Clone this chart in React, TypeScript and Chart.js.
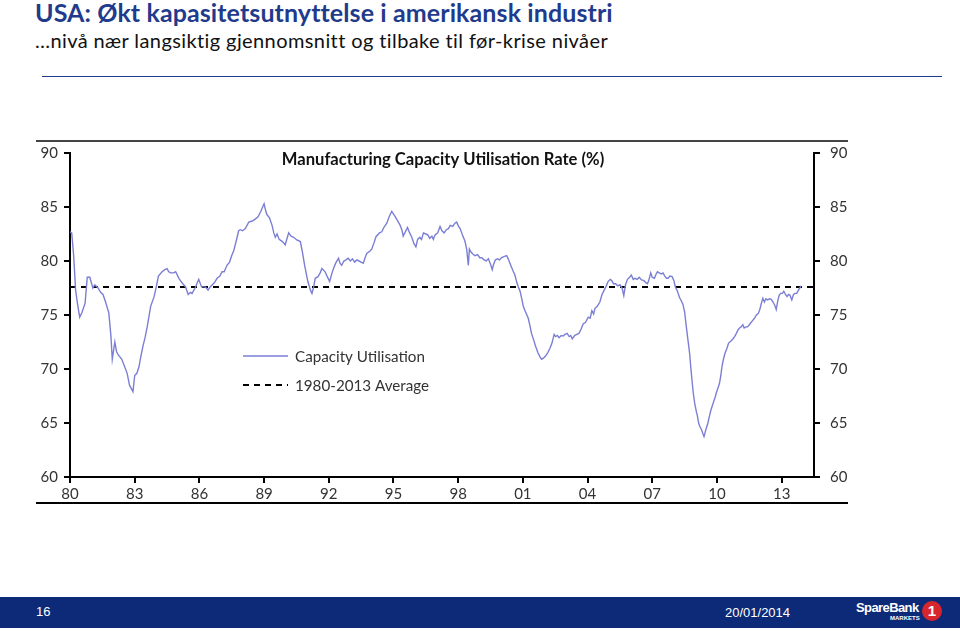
import React, { useEffect, useRef } from "react";
import { Chart, registerables } from "chart.js";

Chart.register(...registerables);

// ---- DATA ----
const pageTitle = "USA: Økt kapasitetsutnyttelse i amerikansk industri";
const pageSubtitle = "…nivå nær langsiktig gjennomsnitt og tilbake til før-krise nivåer";
const chartTitle = "Manufacturing Capacity Utilisation Rate (%)";
const seriesLabel = "Capacity Utilisation";
const averageLabel = "1980-2013 Average";
const footerPage = "16";
const footerDate = "20/01/2014";

const xTickYears = [1980, 1983, 1986, 1989, 1992, 1995, 1998, 2001, 2004, 2007, 2010, 2013];
const xTickLabels = ["80", "83", "86", "89", "92", "95", "98", "01", "04", "07", "10", "13"];
const yTicks = [60, 65, 70, 75, 80, 85, 90];

const averageValue = 77.6;
const averageSpan = [1980, 2014.5];

const dates = [
  1980.0, 1980.08, 1980.17, 1980.26, 1980.35, 1980.45, 1980.55, 1980.7, 1980.8, 1980.92,
  1981.06, 1981.15, 1981.3, 1981.42, 1981.53, 1981.65, 1981.8, 1981.9, 1981.96, 1982.08,
  1982.16, 1982.24, 1982.4, 1982.5, 1982.65, 1982.76, 1982.92, 1983.0, 1983.1, 1983.2,
  1983.27, 1983.38, 1983.48, 1983.58, 1983.74, 1983.9, 1984.0, 1984.1, 1984.27, 1984.4,
  1984.5, 1984.58, 1984.66, 1984.8, 1984.9, 1985.05, 1985.15, 1985.23, 1985.36, 1985.48,
  1985.58, 1985.66, 1985.8, 1985.97, 1986.1, 1986.28, 1986.4, 1986.5, 1986.6, 1986.7,
  1986.82, 1986.95, 1987.05, 1987.15, 1987.28, 1987.4, 1987.5, 1987.6, 1987.75, 1987.82,
  1987.9, 1988.0, 1988.13, 1988.29, 1988.45, 1988.6, 1988.72, 1988.85, 1989.0, 1989.08,
  1989.13, 1989.25, 1989.37, 1989.45, 1989.52, 1989.6, 1989.7, 1989.85, 1989.98, 1990.08,
  1990.14, 1990.25, 1990.37, 1990.52, 1990.68, 1990.78, 1990.88, 1991.03, 1991.15, 1991.22,
  1991.3, 1991.37, 1991.5, 1991.6, 1991.68, 1991.83, 1991.92, 1992.04, 1992.15, 1992.22,
  1992.32, 1992.45, 1992.52, 1992.6, 1992.7, 1992.8, 1992.9, 1993.0, 1993.1, 1993.2,
  1993.3, 1993.4, 1993.5, 1993.6, 1993.7, 1993.76, 1993.9, 1993.99, 1994.1, 1994.19,
  1994.35, 1994.46, 1994.55, 1994.69, 1994.8, 1994.92, 1995.08, 1995.2, 1995.31, 1995.4,
  1995.45, 1995.55, 1995.65, 1995.75, 1995.85, 1995.95, 1996.04, 1996.12, 1996.22, 1996.3,
  1996.39, 1996.5, 1996.6, 1996.68, 1996.78, 1996.85, 1996.92, 1997.05, 1997.16, 1997.25,
  1997.35, 1997.45, 1997.55, 1997.63, 1997.75, 1997.85, 1997.93, 1998.02, 1998.09, 1998.2,
  1998.32, 1998.4, 1998.47, 1998.52, 1998.6, 1998.7, 1998.78, 1998.9, 1999.0, 1999.1,
  1999.2, 1999.3, 1999.4, 1999.5, 1999.58, 1999.63, 1999.72, 1999.82, 1999.92, 2000.0,
  2000.12, 2000.25, 2000.32, 2000.4, 2000.48, 2000.56, 2000.63, 2000.72, 2000.79, 2000.87,
  2000.95, 2001.02, 2001.1, 2001.25, 2001.33, 2001.4, 2001.5, 2001.59, 2001.7, 2001.8,
  2001.87, 2001.95, 2002.05, 2002.15, 2002.25, 2002.35, 2002.45, 2002.52, 2002.6, 2002.68,
  2002.78, 2002.87, 2002.95, 2003.05, 2003.15, 2003.22, 2003.29, 2003.4, 2003.5, 2003.6,
  2003.7, 2003.8, 2003.9, 2004.03, 2004.12, 2004.2, 2004.28, 2004.34, 2004.45, 2004.57,
  2004.67, 2004.77, 2004.87, 2004.95, 2005.05, 2005.12, 2005.2, 2005.3, 2005.4, 2005.5,
  2005.6, 2005.68, 2005.76, 2005.85, 2005.95, 2006.03, 2006.12, 2006.2, 2006.3, 2006.4,
  2006.5, 2006.6, 2006.7, 2006.78, 2006.85, 2006.93, 2007.0, 2007.1, 2007.18, 2007.24,
  2007.32, 2007.42, 2007.5, 2007.58, 2007.66, 2007.73, 2007.82, 2007.92, 2008.0, 2008.07,
  2008.15, 2008.27, 2008.35, 2008.42, 2008.5, 2008.58, 2008.66, 2008.73, 2008.78, 2008.84,
  2008.9, 2008.97, 2009.05, 2009.09, 2009.15, 2009.2, 2009.28, 2009.35, 2009.4, 2009.46,
  2009.52, 2009.58, 2009.66, 2009.72, 2009.77, 2009.85, 2009.92, 2009.97, 2010.04, 2010.12,
  2010.18, 2010.23, 2010.3, 2010.38, 2010.46, 2010.54, 2010.65, 2010.75, 2010.82, 2010.9,
  2010.97, 2011.05, 2011.12, 2011.2, 2011.26, 2011.35, 2011.42, 2011.5, 2011.58, 2011.66,
  2011.74, 2011.83, 2011.92, 2012.0, 2012.06, 2012.13, 2012.2, 2012.27, 2012.35, 2012.44,
  2012.52, 2012.6, 2012.68, 2012.75, 2012.82, 2012.88, 2012.95, 2013.03, 2013.1, 2013.18,
  2013.25, 2013.32, 2013.38, 2013.47, 2013.55, 2013.62, 2013.7, 2013.78, 2013.9,
];

const utilisation = [
  82.7, 82.6, 80.5, 77.3, 76.0, 74.8, 75.2, 76.1, 78.5, 78.5,
  77.5, 77.8, 77.5, 77.1, 76.9, 76.2, 75.2, 73.0, 70.9, 72.5,
  71.6, 71.3, 70.9, 70.4, 69.6, 68.5, 67.9, 69.4, 69.6, 70.2,
  71.0, 72.1, 72.9, 73.9, 75.8, 76.7, 77.6, 78.6, 79.0, 79.2,
  79.3, 79.0, 78.9, 78.9, 79.0, 78.4, 78.1, 77.9, 77.6, 76.9,
  77.1, 77.0, 77.5, 78.3, 77.6, 77.6, 77.3, 77.6, 77.8, 78.0,
  78.4, 78.6, 79.0, 79.0, 79.6, 79.9, 80.5, 81.0, 82.2, 82.8,
  82.9, 82.8, 83.0, 83.6, 83.7, 83.9, 84.1, 84.6, 85.3, 84.6,
  84.3, 84.0, 83.3, 82.6, 82.2, 82.5, 82.0, 81.8, 81.5, 82.2,
  82.6, 82.3, 82.2, 81.95, 81.8, 80.8, 79.6, 78.1, 77.3, 77.0,
  77.6, 78.4, 78.55, 78.9, 79.3, 79.0, 78.6, 78.1, 78.9, 79.3,
  79.8, 80.25, 79.8, 79.6, 80.0, 80.1, 80.25, 80.0, 80.2, 79.9,
  80.1, 80.0, 79.9, 79.8, 80.4, 80.7, 80.9, 81.1, 81.7, 82.25,
  82.6, 82.7, 83.1, 83.5, 84.1, 84.6, 84.1, 83.7, 83.3, 82.8,
  82.3, 82.7, 83.1, 82.6, 82.2, 81.6, 81.3, 82.0, 82.2, 82.0,
  82.6, 82.5, 82.4, 82.1, 82.3, 82.0, 82.4, 82.6, 83.2, 82.8,
  82.6, 82.9, 83.0, 83.3, 83.2, 83.5, 83.6, 83.2, 83.0, 82.4,
  81.8, 81.0, 79.6, 81.1, 80.8, 80.6, 80.5, 80.6, 80.3, 80.3,
  80.1, 80.0, 80.2, 79.7, 79.2, 79.6, 80.1, 80.2, 80.1, 80.3,
  80.4, 80.5, 80.2, 79.8, 79.4, 79.0, 78.7, 78.0, 77.6, 77.2,
  76.5, 75.8, 75.4, 74.7, 74.0, 73.3, 72.7, 72.1, 71.5, 71.1,
  70.9, 71.0, 71.2, 71.5, 71.9, 72.4, 73.2, 73.0, 73.1, 72.9,
  73.1, 73.05, 73.2, 73.3, 73.0, 73.1, 72.8, 73.1, 73.2, 73.3,
  73.7, 74.2, 74.3, 74.8, 74.7, 75.4, 75.1, 75.6, 75.8, 76.2,
  76.9, 77.3, 77.7, 78.1, 78.3, 78.2, 77.9, 77.9, 77.7, 77.8,
  77.5, 76.8, 77.8, 78.3, 78.5, 78.7, 78.3, 78.4, 78.3, 78.5,
  78.25, 78.2, 78.0, 77.9, 78.3, 78.9, 78.5, 78.4, 78.8, 79.0,
  78.9, 78.8, 78.9, 78.6, 78.4, 78.4, 78.6, 78.55, 78.2, 77.6,
  77.3, 76.6, 76.3, 76.0, 75.3, 73.9, 72.6, 71.5, 70.3, 69.0,
  67.8, 66.8, 66.0, 65.7, 65.0, 64.7, 64.4, 64.0, 63.75, 64.2,
  64.6, 65.0, 65.7, 66.2, 66.5, 67.0, 67.4, 67.8, 68.2, 68.7,
  69.4, 70.2, 70.9, 71.5, 71.9, 72.4, 72.6, 72.8, 73.0, 73.3,
  73.6, 73.8, 73.9, 74.1, 73.8, 73.9, 73.9, 74.1, 74.3, 74.5,
  74.7, 75.0, 75.15, 75.6, 76.1, 76.55, 76.2, 76.5, 76.4, 76.5,
  76.45, 76.2, 75.9, 75.5, 76.3, 76.8, 77.0, 77.0, 77.2, 76.9,
  76.7, 76.9, 76.85, 76.4, 76.9, 77.0, 77.0, 77.3, 77.7,
];

// ---- STYLE ----
const NAVY = "#1f3b8c";
const LINE_COLOR = "#7b7fd4";
const TICK_FONT = "Lato, 'Open Sans', sans-serif";

const overlayPlugin = {
  id: "overlay",
  afterDraw(chart: any) {
    const { ctx, chartArea } = chart;
    ctx.save();
    // chart title
    ctx.fillStyle = "#111";
    ctx.font = `bold 16.6px ${TICK_FONT}`;
    ctx.textAlign = "center";
    ctx.textBaseline = "middle";
    ctx.fillText(chartTitle, chartArea.left + 373, chartArea.top + 7);
    // legend
    const lx = chartArea.left + 173;
    const rows = [
      { y: chartArea.top + 203, ds: chart.data.datasets[0] },
      { y: chartArea.top + 232, ds: chart.data.datasets[1] },
    ];
    ctx.textAlign = "left";
    ctx.font = `15.2px ${TICK_FONT}`;
    rows.forEach((r) => {
      ctx.beginPath();
      ctx.strokeStyle = r.ds.borderColor;
      ctx.lineWidth = r.ds.borderWidth;
      ctx.setLineDash(r.ds.borderDash || []);
      ctx.moveTo(lx, r.y);
      ctx.lineTo(lx + 45, r.y);
      ctx.stroke();
      ctx.setLineDash([]);
      ctx.fillStyle = "#333";
      ctx.fillText(r.ds.label, lx + 52, r.y + 1);
    });
    ctx.restore();
  },
};

function ChartBox() {
  const ref = useRef<HTMLCanvasElement | null>(null);
  useEffect(() => {
    if (!ref.current) return;
    const series = dates.map((d, i) => ({ x: d, y: utilisation[i] }));
    const avg = averageSpan.map((d) => ({ x: d, y: averageValue }));
    const tickFont = { family: TICK_FONT, size: 15 };
    const yCommon = {
      min: 60,
      max: 90,
      afterBuildTicks: (s: any) => {
        s.ticks = yTicks.map((v) => ({ value: v }));
      },
      ticks: { color: "#333", font: tickFont, padding: 6 },
      grid: { drawOnChartArea: false, tickLength: 6, color: "#000", lineWidth: 2 },
      border: { color: "#000", width: 2 },
    };
    const chart = new Chart(ref.current, {
      type: "line",
      data: {
        datasets: [
          {
            label: seriesLabel,
            data: series,
            borderColor: LINE_COLOR,
            borderWidth: 1.4,
            pointRadius: 0,
            tension: 0,
            yAxisID: "y",
          },
          {
            label: averageLabel,
            data: avg,
            borderColor: "#000",
            borderWidth: 2,
            borderDash: [6, 5],
            pointRadius: 0,
            yAxisID: "y2",
          },
        ],
      },
      options: {
        responsive: false,
        animation: false,
        layout: { padding: { top: 23, left: 0, right: 0, bottom: 0 } },
        plugins: { legend: { display: false }, tooltip: { enabled: false }, title: { display: false } },
        scales: {
          x: {
            type: "linear",
            min: 1980,
            max: 2014.5,
            afterBuildTicks: (s: any) => {
              s.ticks = xTickYears.map((v) => ({ value: v }));
            },
            afterFit: (s: any) => {
              s.height = 33;
            },
            ticks: {
              color: "#333",
              font: tickFont,
              padding: 2,
              maxRotation: 0,
              autoSkip: false,
              callback: (v: any) => {
                const i = xTickYears.indexOf(Number(v));
                return i >= 0 ? xTickLabels[i] : "";
              },
            },
            grid: { drawOnChartArea: false, tickLength: 6, color: "#000", lineWidth: 2 },
            border: { color: "#000", width: 2 },
          },
          y: {
            ...yCommon,
            position: "left",
            afterFit: (s: any) => {
              s.width = 70;
            },
          },
          y2: {
            ...yCommon,
            ticks: { ...yCommon.ticks, padding: 10 },
            position: "right",
            afterFit: (s: any) => {
              s.width = 86;
            },
          },
        },
      } as any,
      plugins: [overlayPlugin],
    });
    return () => chart.destroy();
  }, []);
  return (
    <canvas
      ref={ref}
      width={900}
      height={380}
      style={{ position: "absolute", left: 0, top: 130, width: 900, height: 380 }}
    />
  );
}

export default function App() {
  return (
    <div
      style={{
        position: "absolute",
        left: 0,
        top: 0,
        width: 960,
        height: 631,
        background: "#fff",
        overflow: "hidden",
        fontFamily: "Lato, 'Open Sans', sans-serif",
      }}
    >
      <div
        style={{
          position: "absolute",
          left: 35,
          top: -3,
          fontSize: 25,
          fontWeight: 700,
          color: NAVY,
          whiteSpace: "nowrap",
          letterSpacing: 0.1,
        }}
      >
        {pageTitle}
      </div>
      <div
        style={{
          position: "absolute",
          left: 35,
          top: 28,
          fontSize: 20,
          color: "#111",
          whiteSpace: "nowrap",
          letterSpacing: 0.4,
        }}
      >
        {pageSubtitle}
      </div>
      <div style={{ position: "absolute", left: 42, top: 76, width: 900, height: 1, background: NAVY }} />
      <div style={{ position: "absolute", left: 36, top: 140, width: 812, height: 1.5, background: "#444" }} />
      <ChartBox />
      <div style={{ position: "absolute", left: 36, top: 502, width: 812, height: 2, background: "#000" }} />
      <div
        style={{
          position: "absolute",
          left: 0,
          top: 597,
          width: 960,
          height: 31,
          background: "#0c2a78",
          color: "#fff",
          fontFamily: "'Liberation Sans', Arial, sans-serif",
          fontSize: 13,
        }}
      >
        <div style={{ position: "absolute", left: 36, top: 7 }}>{footerPage}</div>
        <div style={{ position: "absolute", left: 725, top: 8 }}>{footerDate}</div>
        <div
          style={{
            position: "absolute",
            left: 856,
            top: 3,
            fontWeight: 700,
            fontSize: 13,
            letterSpacing: -0.6,
          }}
        >
          SpareBank
        </div>
        <div style={{ position: "absolute", left: 890, top: 18, fontSize: 6, fontWeight: 700 }}>MARKETS</div>
        <div
          style={{
            position: "absolute",
            left: 922,
            top: 4,
            width: 20,
            height: 20,
            borderRadius: 10,
            background: "#d7262c",
            color: "#fff",
            fontWeight: 700,
            fontSize: 15,
            textAlign: "center",
            lineHeight: "20px",
          }}
        >
          1
        </div>
      </div>
    </div>
  );
}
